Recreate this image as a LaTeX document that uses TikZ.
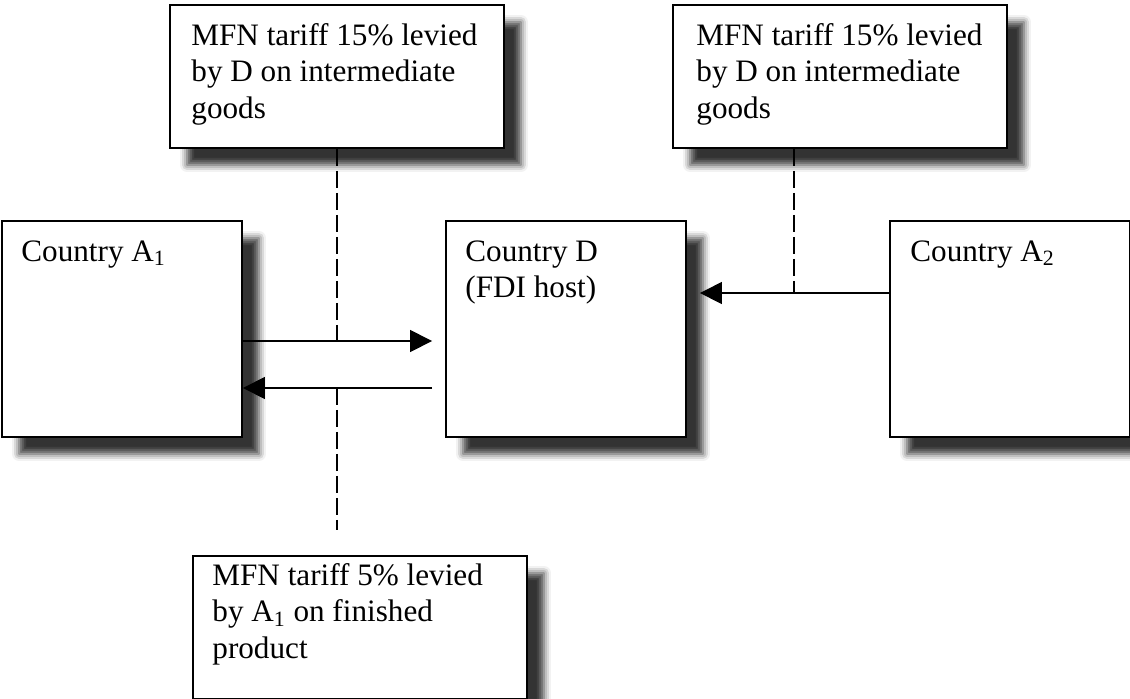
\documentclass[tikz,border=0pt]{standalone}
\usepackage{fontspec}
\setmainfont{Liberation Serif}
\usetikzlibrary{positioning,arrows.meta,shadows.blur}
\tikzset{
  box/.style={draw, line width=1.1pt, fill=white, inner sep=0pt,
    blur shadow={shadow xshift=0.34cm, shadow yshift=-0.34cm,
      shadow blur radius=0.14cm, shadow opacity=80}},
  countrybox/.style={box, minimum width=4.8cm, minimum height=4.32cm},
  tariffbox/.style={box, minimum width=6.68cm, minimum height=2.86cm},
  txt/.style={inner sep=0pt, align=left, font=\fontsize{17.75}{20.8}\selectfont},
  flow/.style={line width=0.85pt, -{Triangle[length=0.44cm, width=0.44cm]}},
  tariffline/.style={line width=0.85pt, dash pattern=on 0.34cm off 0.1cm},
}
\begin{document}
\begin{tikzpicture}[x=0.02cm, y=-0.02cm]
    \useasboundingbox (0,0) rectangle (1130,698);
    \clip (0,0) rectangle (1130,698);
    % countries
    \node[countrybox] (cA1) at (122,329) {};
    \node[countrybox] (cD) at (566,329) {};
    \node[countrybox] (cA2) at (1010,329) {};
    % tariffs
    \node[tariffbox] (tarD1) at (337,76.5) {};
    \node[tariffbox] (tarD2) at (840,76.5) {};
    \node[tariffbox] (tarA1) at (360,627.5) {};
    % texts
    \node[txt, below right=0.4cm and 0.4cm of cA1.north west] (cA1txt) {Country A\textsubscript{1}};
    \node[txt, below right=0.4cm and 0.4cm of cD.north west] (cDtxt) {Country D\\(FDI host)};
    \node[txt, below right=0.4cm and 0.42cm of cA2.north west] (cA2txt) {Country A\textsubscript{2}};
    \node[txt, below right=0.38cm and 0.44cm of tarD1.north west] (tarD1txt)
        {MFN tariff 15\% levied\\by D on intermediate\\goods};
    \node[txt, below right=0.38cm and 0.48cm of tarD2.north west] (tarD2txt)
        {MFN tariff 15\% levied\\by D on intermediate\\goods};
    \node[txt, below right=0.16cm and 0.4cm of tarA1.north west] (tarA1txt)
        {MFN tariff 5\% levied\\by A\textsubscript{1} on finished\\product};
    % flows
    \coordinate (goE) at ([yshift=-0.24cm]cA1.east);
    \coordinate (goW) at ([yshift=-0.24cm, xshift=-0.26cm]cD.west);
    \coordinate (backE) at ([yshift=-1.18cm, xshift=-0.26cm]cD.west);
    \coordinate (backW) at ([yshift=-1.18cm]cA1.east);
    \coordinate (inE) at ([yshift=0.72cm]cA2.west);
    \coordinate (inW) at ([yshift=0.72cm, xshift=0.26cm]cD.east);
    \draw[flow] (goE) -- (goW);
    \draw[flow] (backE) -- (backW);
    \draw[flow] (inE) -- (inW);
    % tariff lines
    \draw[tariffline] (tarD1.south) -- (tarD1.south |- goE);
    \coordinate (tarD2foot) at ([xshift=-0.92cm]tarD2.south);
    \draw[tariffline] (tarD2foot) -- (tarD2foot |- inE);
    \coordinate (tarA1top) at (tarD1.south |- 0,530);
    \draw[tariffline] (tarD1.south |- backW) -- (tarA1top);
\end{tikzpicture}
\end{document}
